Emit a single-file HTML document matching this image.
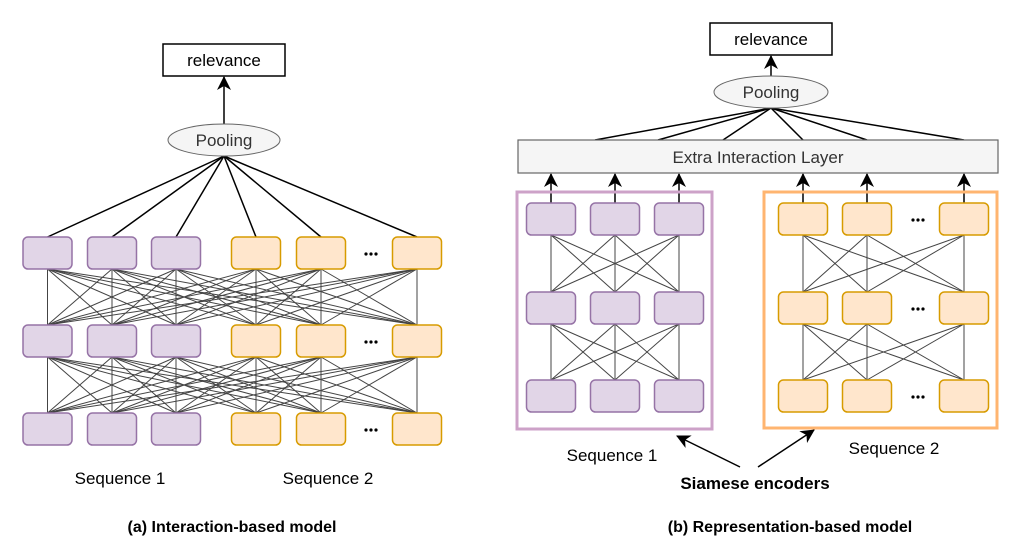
<!DOCTYPE html>
<html><head><meta charset="utf-8"><style>
html,body{margin:0;padding:0;background:#fff}
svg{display:block}
text{font-family:"Liberation Sans",Arial,sans-serif}
</style></head><body>
<svg id="s" width="1014" height="552" viewBox="0 0 1014 552" xmlns="http://www.w3.org/2000/svg">
<defs><marker id="ah" markerWidth="14" markerHeight="14" refX="13" refY="7" orient="auto" markerUnits="userSpaceOnUse"><path d="M0,0 L14,7 L0,14 L4,7 Z" fill="#000"/></marker></defs>
<g id="lines" stroke="#444" stroke-width="1"></g>
<g id="black" stroke="#000" stroke-width="1.5"></g>
<!-- left -->
<rect x="163" y="44" width="122" height="32" fill="#fff" stroke="#000" stroke-width="1.5"/>
<text x="224" y="66" font-size="17" text-anchor="middle">relevance</text>
<line x1="224" y1="124" x2="224" y2="77" stroke="#000" stroke-width="1.5" marker-end="url(#ah)"/>
<ellipse cx="224" cy="140" rx="56" ry="16" fill="#f5f5f5" stroke="#666" stroke-width="1"/>
<text x="224" y="146" font-size="17" text-anchor="middle" fill="#333">Pooling</text>
<g id="lboxes"></g>
<text x="120" y="484" font-size="17" text-anchor="middle">Sequence 1</text>
<text x="328" y="484" font-size="17" text-anchor="middle">Sequence 2</text>
<text x="232" y="532" font-size="16" font-weight="bold" text-anchor="middle">(a) Interaction-based model</text>
<!-- right -->
<rect x="710" y="23" width="122" height="32" fill="#fff" stroke="#000" stroke-width="1.5"/>
<text x="771" y="45" font-size="17" text-anchor="middle">relevance</text>
<line x1="771" y1="76" x2="771" y2="56" stroke="#000" stroke-width="1.5" marker-end="url(#ah)"/>
<ellipse cx="771" cy="92" rx="57" ry="16" fill="#f5f5f5" stroke="#666" stroke-width="1"/>
<text x="771" y="98" font-size="17" text-anchor="middle" fill="#333">Pooling</text>
<rect x="518" y="140" width="480" height="33" fill="#f5f5f5" stroke="#666" stroke-width="1.2"/>
<text x="758" y="163" font-size="17" text-anchor="middle" fill="#333">Extra Interaction Layer</text>
<rect x="517" y="192" width="195" height="237" fill="none" stroke="#cda2c8" stroke-width="3"/>
<rect x="764" y="192" width="233" height="236" fill="none" stroke="#ffb570" stroke-width="3"/>
<g id="rboxes"></g>
<text x="612" y="461" font-size="17" text-anchor="middle">Sequence 1</text>
<text x="894" y="454" font-size="17" text-anchor="middle">Sequence 2</text>
<text x="755" y="489" font-size="17" font-weight="bold" text-anchor="middle">Siamese encoders</text>
<line x1="740" y1="467" x2="677" y2="436" stroke="#000" stroke-width="1.5" marker-end="url(#ah)"/>
<line x1="758" y1="467" x2="814" y2="430" stroke="#000" stroke-width="1.5" marker-end="url(#ah)"/>
<text x="790" y="532" font-size="16" font-weight="bold" text-anchor="middle">(b) Representation-based model</text>
</svg>
<script>
var NS="http://www.w3.org/2000/svg";
function el(p,t,a){var e=document.createElementNS(NS,t);for(var k in a)e.setAttribute(k,a[k]);document.getElementById(p).appendChild(e);return e;}
var P={fill:"#e1d5e7",stroke:"#9673a6"},O={fill:"#ffe6cc",stroke:"#d79b00"};
function box(g,cx,y,c){el(g,"rect",{x:cx-24.5,y:y,width:49,height:32,rx:5,fill:c.fill,stroke:c.stroke,"stroke-width":1.5});}
function dots(g,x,y){for(var i=-1;i<=1;i++)el(g,"circle",{cx:x+i*5,cy:y,r:1.6,fill:"#000"});}
var lc=[47.5,112,176,256,321,417],lr=[237,325,413];
lc.forEach(function(c){el("black","line",{x1:224,y1:156,x2:c,y2:237});});
for(var r=0;r<2;r++)lc.forEach(function(a){lc.forEach(function(b){el("lines","line",{x1:a,y1:lr[r]+32,x2:b,y2:lr[r+1]});});});
lr.forEach(function(y){lc.forEach(function(c,i){box("lboxes",c,y,i<3?P:O);});dots("lboxes",371,y+17);});
var tops=[595,658,723,803,867,964];
tops.forEach(function(x){el("black","line",{x1:771,y1:108,x2:x,y2:140});});
var g1=[551,615,679],g2=[803,867,964],rr=[203,292,380];
[g1,g2].forEach(function(g,gi){
 for(var r=0;r<2;r++)g.forEach(function(a){g.forEach(function(b){el("lines","line",{x1:a,y1:rr[r]+32,x2:b,y2:rr[r+1]});});});
 g.forEach(function(c){el("black","line",{x1:c,y1:203,x2:c,y2:174,"marker-end":"url(#ah)"});});
 rr.forEach(function(y){g.forEach(function(c){box("rboxes",c,y,gi?O:P);});if(gi)dots("rboxes",918,y+17);});
});
</script>
</body></html>
